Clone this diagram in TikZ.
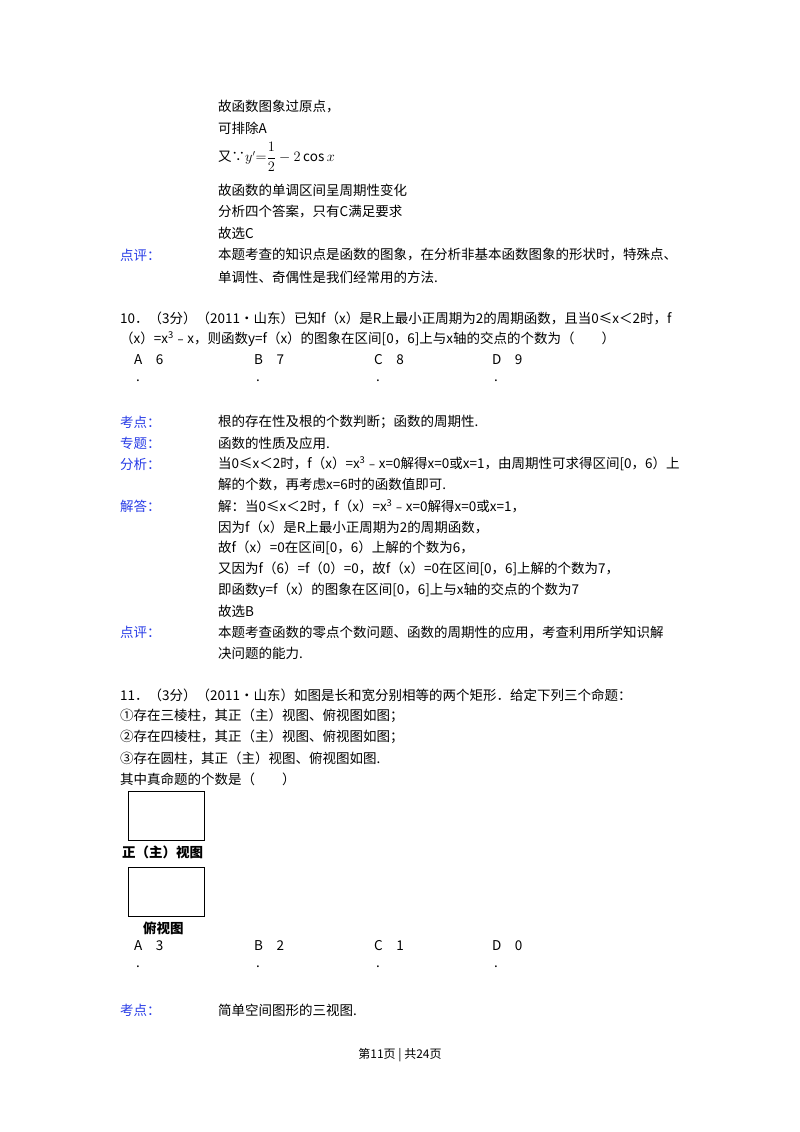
\documentclass[tikz,border=0pt]{standalone}
\usepackage{fontspec}
\setmainfont{Noto Sans CJK SC}
\definecolor{lbl}{RGB}{40,60,230}
\begin{document}
\begin{tikzpicture}[x=1pt,y=-1pt,
  t/.style={anchor=west,inner sep=0pt,font=\fontsize{13.5}{14}\selectfont},
  l/.style={t,text=lbl},
  box/.style={draw,line width=0.8pt}]
\useasboundingbox (0,0) rectangle (800,1132);
\node[t] (a1) at (218,107) {故函数图象过原点，};
\node[t] (a2) at (218,128) {可排除A};
\node[t] (a3) at (218,157) {又∵$y'{=}\displaystyle\frac{1}{2}-2\cos x$};
\node[t] (a4) at (218,190) {故函数的单调区间呈周期性变化};
\node[t] (a5) at (218,212) {分析四个答案，只有C满足要求};
\node[t] (a6) at (218,233) {故选C};
\node[l] (p1) at (120,255) {点评：};
\node[t] (a7) at (218,255) {本题考查的知识点是函数的图象，在分析非基本函数图象的形状时，特殊点、};
\node[t] (a8) at (218,277) {单调性、奇偶性是我们经常用的方法.};
\node[t] (q1) at (120,318) {10．（3分）（2011•山东）已知f（x）是R上最小正周期为2的周期函数，且当0≤x＜2时，f};
\node[t] (q2) at (120,339) {（x）=x\textsuperscript{3}﹣x，则函数y=f（x）的图象在区间[0，6]上与x轴的交点的个数为（\quad\quad）};
\node[t] (oA) at (134,360) {A\quad 6};
\node[t] (oB) at (254,360) {B\quad 7};
\node[t] (oC) at (374,360) {C\quad 8};
\node[t] (oD) at (492,360) {D\quad 9};
\foreach \x/\n in {136/d1,256/d2,376/d3,494/d4}{\node[t] (\n) at (\x,381) {.};}
\node[l] (k1) at (120,422) {考点：};
\node[t] (b1) at (218,422) {根的存在性及根的个数判断；函数的周期性.};
\node[l] (k2) at (120,443) {专题：};
\node[t] (b2) at (218,443) {函数的性质及应用.};
\node[l] (k3) at (120,464) {分析：};
\node[t] (b3) at (218,464) {当0≤x＜2时，f（x）=x\textsuperscript{3}﹣x=0解得x=0或x=1，由周期性可求得区间[0，6）上};
\node[t] (b4) at (218,485) {解的个数，再考虑x=6时的函数值即可.};
\node[l] (k4) at (120,506) {解答：};
\node[t] (b5) at (218,506) {解：当0≤x＜2时，f（x）=x\textsuperscript{3}﹣x=0解得x=0或x=1，};
\node[t] (b6) at (218,527) {因为f（x）是R上最小正周期为2的周期函数，};
\node[t] (b7) at (218,548) {故f（x）=0在区间[0，6）上解的个数为6，};
\node[t] (b8) at (218,569) {又因为f（6）=f（0）=0，故f（x）=0在区间[0，6]上解的个数为7，};
\node[t] (b9) at (218,590) {即函数y=f（x）的图象在区间[0，6]上与x轴的交点的个数为7};
\node[t] (b10) at (218,611) {故选B};
\node[l] (k5) at (120,632) {点评：};
\node[t] (b11) at (218,632) {本题考查函数的零点个数问题、函数的周期性的应用，考查利用所学知识解};
\node[t] (b12) at (218,653) {决问题的能力.};
\node[t] (c1) at (120,695) {11．（3分）（2011•山东）如图是长和宽分别相等的两个矩形．给定下列三个命题：};
\node[t] (c2) at (120,716) {①存在三棱柱，其正（主）视图、俯视图如图；};
\node[t] (c3) at (120,737) {②存在四棱柱，其正（主）视图、俯视图如图；};
\node[t] (c4) at (120,758) {③存在圆柱，其正（主）视图、俯视图如图.};
\node[t] (c5) at (120,779) {其中真命题的个数是（\quad\quad）};
\node[box,minimum width=76pt,minimum height=49pt,anchor=north west] (r1) at (128,791) {};
\node[t,font=\fontsize{13.5}{14}\selectfont\bfseries] (r1l) at (122,852) {正（主）视图};
\node[box,minimum width=76pt,minimum height=49pt,anchor=north west] (r2) at (128,867) {};
\node[t,font=\fontsize{13.5}{14}\selectfont\bfseries] (r2l) at (143,928) {俯视图};
\node[t] (eA) at (134,946) {A\quad 3};
\node[t] (eB) at (254,946) {B\quad 2};
\node[t] (eC) at (374,946) {C\quad 1};
\node[t] (eD) at (492,946) {D\quad 0};
\foreach \x/\n in {136/e1,256/e2,376/e3,494/e4}{\node[t] (\n) at (\x,967) {.};}
\node[l] (k6) at (120,1010) {考点：};
\node[t] (f1) at (218,1010) {简单空间图形的三视图.};
\node[anchor=center,inner sep=0pt,font=\fontsize{12}{13}\selectfont] (foot) at (400,1055) {第11页\ |\ 共24页};
\end{tikzpicture}
\end{document}
